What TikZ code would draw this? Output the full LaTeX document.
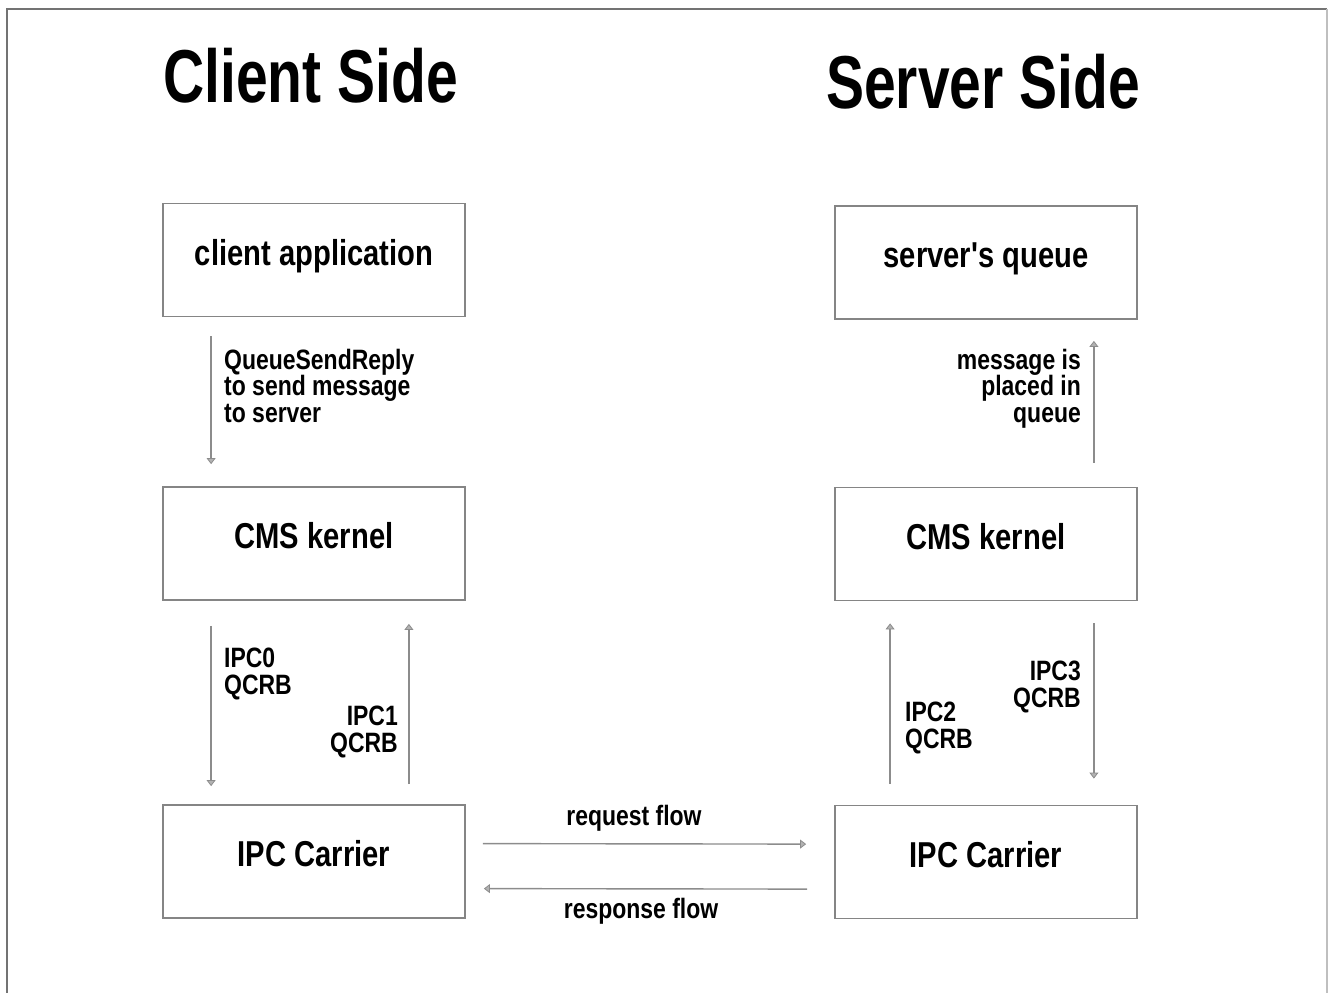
\documentclass[tikz,border=0pt]{standalone}
\usepackage{fontspec}
\setmainfont{Liberation Sans}
\usetikzlibrary{arrows.meta,calc}
\newfontfamily\titlefont{Liberation Sans}[FakeStretch=0.76]
\newfontfamily\boxfont{Liberation Sans}[FakeStretch=0.81]
\newfontfamily\labfont{Liberation Sans}[FakeStretch=0.82]
\colorlet{edge}{black!48}
\colorlet{wire}{black!45}
\tikzset{
  stage/.style={draw=edge, line width=1.8pt, fill=white,
    minimum width=302pt, minimum height=113pt, inner sep=0pt,
    text height=26pt, text depth=16pt,
    font=\boxfont\bfseries\fontsize{36}{38}\selectfont},
  heading/.style={anchor=base west, inner sep=0pt,
    font=\titlefont\bfseries\fontsize{75}{80}\selectfont},
  note/.style={inner sep=0pt, font=\labfont\bfseries\fontsize{28}{26.5}\selectfont},
  flow/.style={draw=wire, line width=1.4pt,
    -{Triangle[length=6pt,width=9pt,color=wire,fill=black!30,line width=0.8pt]}},
}
\begin{document}
\begin{tikzpicture}[x=1pt,y=-1pt]
\useasboundingbox (0,0) rectangle (1328,993);
% page frame
\coordinate (fTL) at (7,9);
\coordinate (fTR) at (1327,9);
\coordinate (fBL) at (7,993);
\coordinate (fBR) at (1327,993);
\draw[black!55, line width=2pt] (fBL) -- (fTL) -- (fTR);
\draw[black!25, line width=1.5pt] (fTR) -- (fBR);

% column headings
\node[heading] (hc) at (163,102) {Client Side};
\node[heading] (hs) at (826,108) {Server Side};

% client column
\node[stage] (app)  at (314,260)   {client application};
\node[stage] (cmsL) at (314,543.5) {CMS kernel};
\node[stage] (ipcL) at (314,861.5) {IPC Carrier};

% server column
\node[stage] (que)  at (986,262.5) {server's queue};
\node[stage] (cmsR) at (986,544)   {CMS kernel};
\node[stage] (ipcR) at (986,862)   {IPC Carrier};

% client side calls
\draw[flow] ($(app.south west)+(49,19)$) -- ($(cmsL.north west)+(49,-22)$);
\node[note, anchor=north west, align=left] (l1) at (224,349)
  {QueueSendReply\\to send message\\to server};

\draw[flow] ($(cmsL.south west)+(49,25)$) -- ($(ipcL.north west)+(49,-18)$);
\node[note, anchor=north west, align=left] (l2) at (224,648) {IPC0\\QCRB};

\draw[flow] ($(ipcL.north east)+(-57,-20)$) -- ($(cmsL.south east)+(-57,23)$);
\node[note, anchor=north east, align=right] (l3) at (398,706) {IPC1\\QCRB};

% server side calls
\draw[flow] ($(ipcR.north west)+(56,-21)$) -- ($(cmsR.south west)+(56,22)$);
\node[note, anchor=north west, align=left] (l4) at (905,702) {IPC2\\QCRB};

\draw[flow] ($(cmsR.south east)+(-44,22)$) -- ($(ipcR.north east)+(-44,-26)$);
\node[note, anchor=north east, align=right] (l5) at (1081,661) {IPC3\\QCRB};

\draw[flow] ($(cmsR.north east)+(-44,-24)$) -- ($(que.south east)+(-44,21)$);
\node[note, anchor=north east, align=right] (l6) at (1081,349)
  {message is\\placed in\\queue};

% carrier traffic
\draw[flow] ($(ipcL.north east)+(17,39.5)$) -- ($(ipcR.north west)+(-28,39.5)$);
\node[note, anchor=base] (l7) at (634,825) {request flow};
\draw[flow] ($(ipcR.north west)+(-27,84.5)$) -- ($(ipcL.north east)+(18,84.5)$);
\node[note, anchor=base] (l8) at (641,918) {response flow};
\end{tikzpicture}
\end{document}
